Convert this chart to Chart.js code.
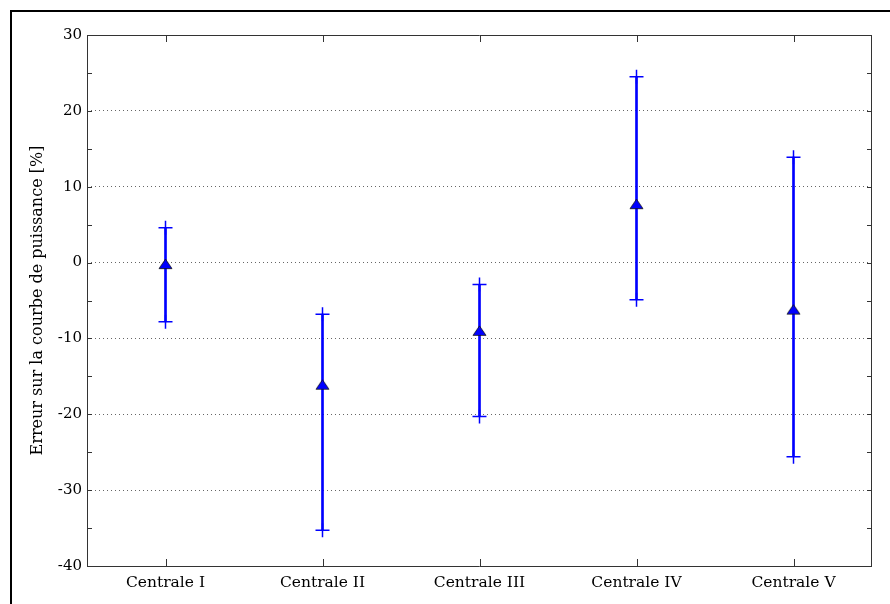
<!DOCTYPE html>
<html>
<head>
<meta charset="utf-8">
<script src="https://cdn.jsdelivr.net/npm/chart.js@4/dist/chart.umd.min.js"></script>
<style>
  html, body { margin: 0; padding: 0; background: #fff; }
  canvas { display: block; }
</style>
</head>
<body>
<canvas id="c" width="890" height="604"></canvas>
<script>
// ---- data ----
const categories = ['Centrale I', 'Centrale II', 'Centrale III', 'Centrale IV', 'Centrale V'];
const meanError  = [-0.2, -16.1, -9.0, 7.7, -6.2];
const lowerBound = [-7.8, -35.3, -20.3, -4.9, -25.6];
const upperBound = [4.6, -6.8, -2.9, 24.5, 13.9];
const yTickValues = [-40, -30, -20, -10, 0, 10, 20, 30];
const yTitle = 'Erreur sur la courbe de puissance [%]';

const BLUE = '#0000ff';
const FONT = "'DejaVu Serif', 'Liberation Serif', serif";

// triangle marker (bbox-centred, like the reference)
function makeTriangle() {
  const w = 15, h = 12;
  const c = document.createElement('canvas');
  c.width = w; c.height = h;
  const g = c.getContext('2d');
  g.beginPath();
  g.moveTo(w / 2, 1);
  g.lineTo(w - 1, h - 1.5);
  g.lineTo(1, h - 1.5);
  g.closePath();
  g.fillStyle = BLUE;
  g.fill();
  g.lineWidth = 0.8;
  g.strokeStyle = '#111';
  g.stroke();
  return c;
}

const framePlugin = {
  id: 'frame',
  beforeDraw(chart) {
    const ctx = chart.ctx;
    ctx.save();
    ctx.strokeStyle = '#000';
    ctx.lineWidth = 2;
    ctx.beginPath();
    ctx.moveTo(11, 604);
    ctx.lineTo(11, 11);
    ctx.lineTo(890, 11);
    ctx.stroke();
    ctx.restore();
  },
  afterDraw(chart) {
    const {ctx, chartArea: a, scales} = chart;
    ctx.save();
    ctx.strokeStyle = '#333';
    ctx.lineWidth = 1;
    ctx.beginPath();
    ctx.rect(Math.round(a.left) + 0.5, Math.round(a.top) + 0.5,
             Math.round(a.right - a.left) - 1, Math.round(a.bottom - a.top));
    ctx.stroke();
    // y ticks (inside, both sides)
    const ys = scales.y;
    ctx.beginPath();
    ys.ticks.forEach(t => {
      const py = Math.round(ys.getPixelForValue(t.value)) + 0.5;
      ctx.moveTo(a.left, py); ctx.lineTo(a.left + 5, py);
      ctx.moveTo(a.right - 5, py); ctx.lineTo(a.right, py);
    });
    // x ticks (inside, top and bottom)
    const xs = scales.x;
    categories.forEach((c, i) => {
      const px = Math.round(xs.getPixelForValue(i)) + 0.5;
      ctx.moveTo(px, a.top); ctx.lineTo(px, a.top + 7);
      ctx.moveTo(px, a.bottom); ctx.lineTo(px, a.bottom - 7);
    });
    ctx.stroke();
    ctx.restore();
  }
};

new Chart(document.getElementById('c'), {
  type: 'bar',
  data: {
    labels: categories,
    datasets: [
      {
        type: 'line',
        label: 'Erreur moyenne',
        data: meanError,
        showLine: false,
        pointStyle: makeTriangle(),
        pointRadius: 7,
        order: 0
      },
      {
        type: 'line',
        label: 'Bornes',
        data: categories.flatMap((c, i) => [{x: c, y: upperBound[i]}, {x: c, y: lowerBound[i]}]),
        showLine: false,
        pointStyle: 'cross',
        pointRadius: 7,
        borderColor: BLUE,
        borderWidth: 1.5,
        order: 1
      },
      {
        type: 'bar',
        label: 'Intervalle',
        data: categories.map((c, i) => [lowerBound[i], upperBound[i]]),
        backgroundColor: BLUE,
        borderWidth: 0,
        barThickness: 2,
        order: 2
      }
    ]
  },
  options: {
    responsive: false,
    animation: false,
    events: [],
    layout: { padding: { left: 0, top: 35, right: 18, bottom: 0 } },
    plugins: { legend: { display: false }, tooltip: { enabled: false } },
    scales: {
      x: {
        offset: true,
        grid: { display: false },
        border: { display: false },
        ticks: { color: '#000', font: { family: FONT, size: 15.5 }, padding: 0, maxRotation: 0 },
        afterFit(s) { s.height = 38; }
      },
      y: {
        min: -40,
        max: 30,
        ticks: {
          stepSize: 5,
          color: '#000',
          font: { family: FONT, size: 15 },
          padding: 5,
          callback: v => (yTickValues.includes(v) ? String(v) : '')
        },
        grid: {
          drawTicks: false,
          lineWidth: 1,
          color: ctx => (ctx.tick && ctx.tick.value % 10 === 0 && ctx.tick.value !== 30 && ctx.tick.value !== -40) ? '#666' : 'rgba(0,0,0,0)'
        },
        border: { display: false, dash: [1, 3] },
        title: {
          display: true,
          text: yTitle,
          color: '#000',
          font: { family: FONT, size: 16 },
          padding: { top: 28, bottom: 0 }
        },
        afterFit(s) { s.width = 87; }
      }
    }
  },
  plugins: [framePlugin]
});
</script>
</body>
</html>
